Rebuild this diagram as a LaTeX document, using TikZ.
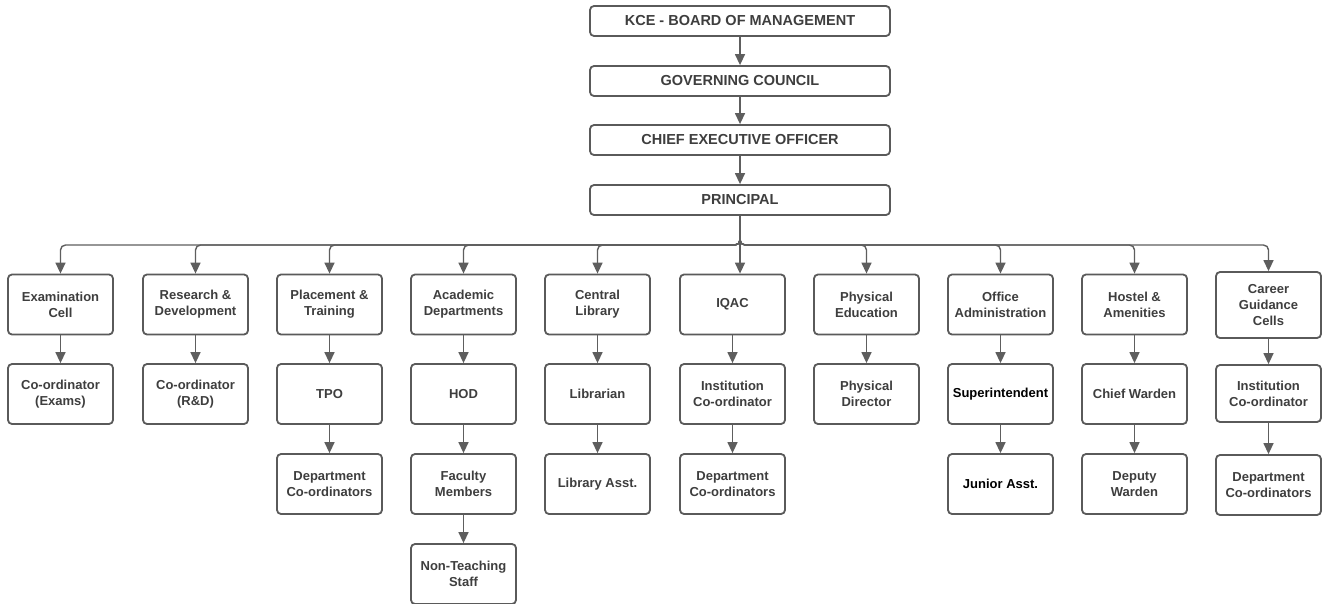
\documentclass[tikz,border=0pt]{standalone}
\usepackage{fontspec}
\setmainfont{Liberation Sans}
\usetikzlibrary{arrows.meta}
\definecolor{boxline}{HTML}{5A5A5A}
\definecolor{arrline}{HTML}{5E5E5E}
\definecolor{txt}{HTML}{3E3E3E}
\tikzset{
  topbox/.style={draw=boxline, line width=1.8pt, rounded corners=4pt, minimum width=300pt, minimum height=30pt, inner sep=0pt, text=txt, font=\fontsize{14.5}{17}\selectfont\bfseries},
  unit/.style={draw=boxline, line width=1.8pt, rounded corners=4pt, minimum width=105pt, minimum height=60pt, inner sep=0pt, align=center, text=txt, font=\fontsize{13}{16}\selectfont\bfseries},
  blk/.style={text=black},
  arr/.style={draw=arrline, line width=1.4pt, -{Triangle[width=10pt,length=11pt]}, rounded corners=5pt},
}
\begin{document}
\begin{tikzpicture}[x=1pt,y=-1pt]
\useasboundingbox[fill=white] (0,0) rectangle (1330,603);
% top chain
\node[topbox] (kce) at (740,21) {KCE - BOARD OF MANAGEMENT};
\node[topbox] (gc) at (740,81) {GOVERNING COUNCIL};
\node[topbox] (ceo) at (740,140) {CHIEF EXECUTIVE OFFICER};
\node[topbox] (pr) at (740,200) {PRINCIPAL};
\draw[arr] (kce) -- (gc);
\draw[arr] (gc) -- (ceo);
\draw[arr] (ceo) -- (pr);
% row 1
\node[unit] (exam) at (60.5,304.5) {Examination\\Cell};
\node[unit] (rd) at (195.5,304.5) {Research \&\\Development};
\node[unit] (pt) at (329.5,304.5) {Placement \&\\Training};
\node[unit] (ad) at (463.5,304.5) {Academic\\Departments};
\node[unit] (cl) at (597.5,304.5) {Central\\Library};
\node[unit] (iq) at (732.5,304.5) {IQAC};
\node[unit] (pe) at (866.5,304.5) {Physical\\Education};
\node[unit] (oa) at (1000.5,304.5) {Office\\Administration};
\node[unit] (ha) at (1134.5,304.5) {Hostel \&\\Amenities};
\node[unit, minimum height=66pt] (cg) at (1268.5,305) {Career\\Guidance\\Cells};
% row 2
\node[unit] (exam2) at (60.5,394) {Co-ordinator\\(Exams)};
\node[unit] (rd2) at (195.5,394) {Co-ordinator\\(R\&D)};
\node[unit] (pt2) at (329.5,394) {TPO};
\node[unit] (ad2) at (463.5,394) {HOD};
\node[unit] (cl2) at (597.5,394) {Librarian};
\node[unit] (iq2) at (732.5,394) {Institution\\Co-ordinator};
\node[unit] (pe2) at (866.5,394) {Physical\\Director};
\node[unit, blk] (oa2) at (1000.5,394) {Superintendent};
\node[unit] (ha2) at (1134.5,394) {Chief Warden};
\node[unit, minimum height=57pt] (cg2) at (1268.5,393.5) {Institution\\Co-ordinator};
% row 3
\node[unit] (pt3) at (329.5,484) {Department\\Co-ordinators};
\node[unit] (ad3) at (463.5,484) {Faculty\\Members};
\node[unit] (cl3) at (597.5,484) {Library Asst.};
\node[unit] (iq3) at (732.5,484) {Department\\Co-ordinators};
\node[unit, blk] (oa3) at (1000.5,484) {Junior Asst.};
\node[unit] (ha3) at (1134.5,484) {Deputy\\Warden};
\node[unit] (cg3) at (1268.5,485) {Department\\Co-ordinators};
% row 4
\node[unit] (ad4) at (463.5,574) {Non-Teaching\\Staff};
% branches from principal
\coordinate (bj) at (740,245);
\foreach \n in {exam,rd,pt,ad,cl,pe,oa,ha,cg}{
  \draw[arr] (pr.south) -- (bj) -- (bj -| \n.north) -- (\n.north);
}
\draw[arr] (pr.south) -- (pr.south |- iq.north);
% column arrows
\foreach \a/\b in {exam/exam2,rd/rd2,pt/pt2,pt2/pt3,ad/ad2,ad2/ad3,ad3/ad4,cl/cl2,cl2/cl3,iq/iq2,iq2/iq3,pe/pe2,oa/oa2,oa2/oa3,ha/ha2,ha2/ha3,cg/cg2,cg2/cg3}{
  \draw[arr] (\a.south) -- (\b.north);
}
\end{tikzpicture}
\end{document}
